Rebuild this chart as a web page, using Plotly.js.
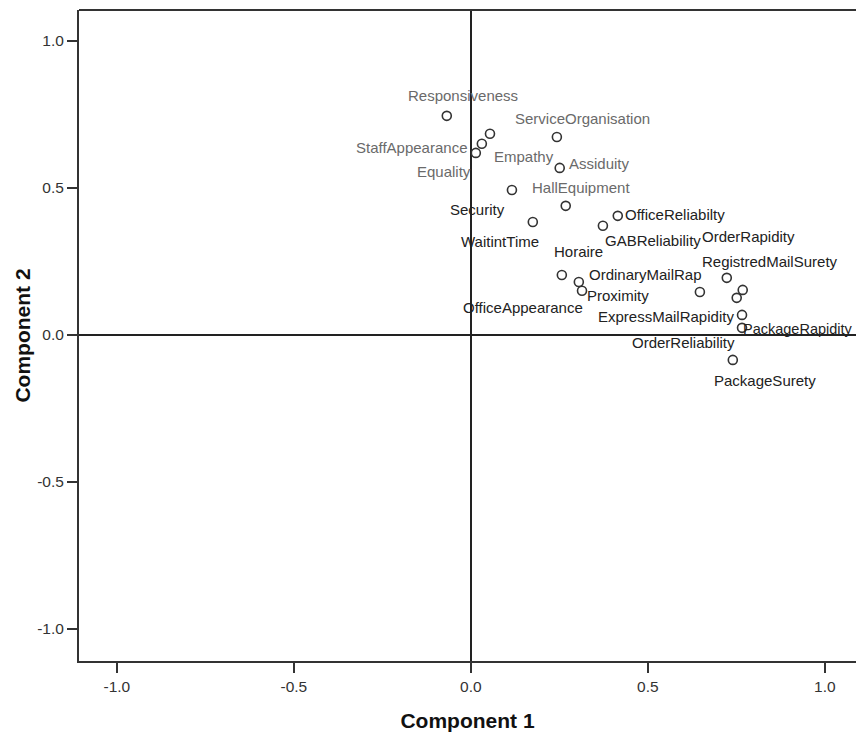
<!DOCTYPE html>
<html>
<head>
<meta charset="utf-8">
<script src="https://cdn.plot.ly/plotly-3.0.1.min.js"></script>
<style>
  html, body { margin: 0; padding: 0; background: #fff; }
  #chart { width: 856px; height: 745px; }
</style>
</head>
<body>
<div id="chart"></div>
<script>
// ---- data (component loadings) ----
const variables = [
  "Responsiveness", "ServiceOrganisation", "Empathy", "StaffAppearance", "Equality",
  "Assiduity", "Security", "HallEquipment", "WaitintTime", "Horaire",
  "OfficeReliabilty", "OfficeAppearance", "OrdinaryMailRap", "Proximity", "GABReliability",
  "RegistredMailSurety", "OrderRapidity", "OrderReliability", "ExpressMailRapidity", "PackageRapidity",
  "PackageSurety"
];
const component1 = [
  -0.068, 0.243, 0.054, 0.031, 0.014,
  0.251, 0.116, 0.268, 0.175, 0.373,
  0.415, 0.257, 0.305, 0.314, 0.647,
  0.723, 0.768, 0.751, 0.766, 0.766,
  0.740
];
const component2 = [
  0.745, 0.673, 0.684, 0.650, 0.619,
  0.568, 0.493, 0.439, 0.384, 0.371,
  0.405, 0.204, 0.180, 0.150, 0.146,
  0.194, 0.153, 0.126, 0.068, 0.024,
  -0.085
];
const tickValues = [-1.0, -0.5, 0.0, 0.5, 1.0];
const tickLabels = ["-1.0", "-0.5", "0.0", "0.5", "1.0"];

// ---- label placement (pixel offsets from each point) & styling ----
const labelShiftX = [16, 26, 34, -70, -32, 40, -34.5, 15.5, -33, -24, 57, -39, 67, 36, -47, 43, 6, -53, -76.5, 56, 32.5];
const labelShiftY = [20, 19, -23, -3.5, -19, 4, -20, 18, -19, -26, 1, -33, 7, -5, 51, 16, 53, -45, -2, -1, -21];
const labelSize = [15, 15, 15, 15, 15, 15, 15, 15, 15, 15, 15, 15, 15, 15, 15, 15, 15, 15, 15, 14.5, 15];
const labelColor = ["#6a6a6a", "#6a6a6a", "#6a6a6a", "#6a6a6a", "#6a6a6a", "#6a6a6a", "#222", "#6a6a6a",
  "#222", "#222", "#222", "#222", "#222", "#222", "#222", "#222", "#222", "#222", "#222", "#222", "#222"];

const FONT = "Liberation Sans, Arial, Helvetica, sans-serif";

const trace = {
  type: "scatter",
  mode: "markers",
  x: component1,
  y: component2,
  text: variables,
  hoverinfo: "text",
  marker: {
    symbol: "circle-open",
    size: 9,
    color: "#333",
    line: { width: 1.6, color: "#333" }
  },
  showlegend: false
};

const annotations = variables.map((v, i) => ({
  x: component1[i],
  y: component2[i],
  xref: "x",
  yref: "y",
  text: v,
  showarrow: false,
  xshift: labelShiftX[i],
  yshift: labelShiftY[i],
  font: { family: FONT, size: labelSize[i], color: labelColor[i] }
}));

const axisCommon = {
  showgrid: false,
  zeroline: true,
  zerolinecolor: "#222",
  zerolinewidth: 2,
  showline: true,
  linecolor: "#333",
  linewidth: 2,
  ticks: "outside",
  ticklen: 10,
  tickwidth: 2,
  tickcolor: "#333",
  tickmode: "array",
  tickvals: tickValues,
  ticktext: tickLabels,
  tickfont: { family: FONT, size: 15.5, color: "#333" },
  automargin: false,
  fixedrange: true
};

const layout = {
  width: 856,
  height: 745,
  margin: { l: 79, r: 0, t: 10, b: 84 },
  paper_bgcolor: "#fff",
  plot_bgcolor: "#fff",
  xaxis: Object.assign({}, axisCommon, {
    range: [-1.107, 1.088],
    title: { text: "Component 1", font: { family: FONT, size: 21, color: "#111", weight: "bold" }, standoff: 20 }
  }),
  yaxis: Object.assign({}, axisCommon, {
    range: [-1.109, 1.105],
    ticklabelstandoff: 0,
    title: { text: "Component 2", font: { family: FONT, size: 21, color: "#111", weight: "bold" }, standoff: 1 }
  }),
  shapes: [{
    type: "line", xref: "paper", yref: "paper",
    x0: 0, x1: 1, y0: 1, y1: 1,
    line: { color: "#333", width: 2 }
  }],
  annotations: annotations
};

Plotly.newPlot("chart", [trace], layout, { displayModeBar: false, staticPlot: true });
</script>
</body>
</html>
